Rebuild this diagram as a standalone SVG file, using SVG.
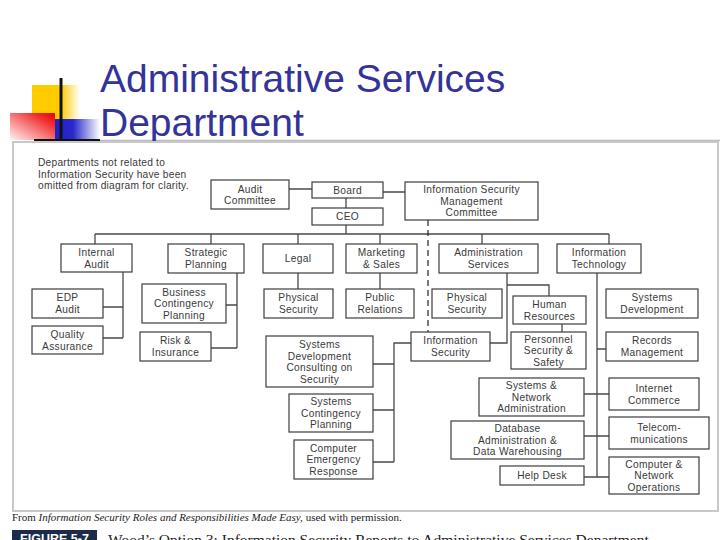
<svg xmlns="http://www.w3.org/2000/svg" width="720" height="540" viewBox="0 0 720 540">
<defs>
<linearGradient id="gy" x1="0" y1="0" x2="1" y2="0"><stop offset="0" stop-color="#FFCC00"/><stop offset="0.6" stop-color="#FFCC00"/><stop offset="1" stop-color="#FFFFFF"/></linearGradient>
<linearGradient id="gr" x1="0" y1="1" x2="1" y2="0"><stop offset="0" stop-color="#FFF4F4"/><stop offset="0.75" stop-color="#F03030"/><stop offset="1" stop-color="#E80000"/></linearGradient>
<linearGradient id="gb" x1="0" y1="0" x2="1" y2="0"><stop offset="0" stop-color="#2020C8"/><stop offset="0.4" stop-color="#2828CC"/><stop offset="1" stop-color="#FFFFFF"/></linearGradient>
<style>
.box{fill:#fff;stroke:#3c3c3c;stroke-width:1.2}
.t{font-family:"Liberation Sans",Arial,sans-serif;font-size:10.2px;letter-spacing:0.3px;fill:#3a3a3a;text-anchor:middle}
.n{font-family:"Liberation Sans",Arial,sans-serif;font-size:10.2px;letter-spacing:0.25px;fill:#3a3a3a}
.c{stroke:#4a4a4a;stroke-width:1.3;fill:none}
.dash{stroke:#222;stroke-width:1.2;stroke-dasharray:6,4;fill:none}
.title{font-family:"Liberation Sans",Arial,sans-serif;font-size:39px;fill:#333399}
</style>
</defs>
<rect width="720" height="540" fill="#fff"/>
<g id="decor">
<rect x="32" y="85" width="48" height="34" fill="url(#gy)"/>
<rect x="55" y="119" width="45" height="21" fill="url(#gb)"/>
<rect x="10" y="113" width="45" height="27" fill="url(#gr)"/>
<line x1="61" y1="78" x2="61" y2="140" stroke="#111" stroke-width="3"/>
<line x1="34" y1="140" x2="100" y2="140" stroke="#111" stroke-width="2"/>
<line x1="100" y1="140.5" x2="720" y2="140.5" stroke="#bbb" stroke-width="1.5"/>
</g>
<g id="title">
<text class="title" x="100" y="92">Administrative Services</text>
<text class="title" x="100" y="136">Department</text>
</g>
<rect x="13" y="142" width="705" height="369" fill="#fff" stroke="#c8c8c8" stroke-width="2"/>
<text class="n"><tspan x="38" y="166">Departments not related to</tspan><tspan x="38" y="177.6">Information Security have been</tspan><tspan x="38" y="189.2">omitted from diagram for clarity.</tspan></text>
<g id="connectors">
<path class="c" d="M289 189H312M383 192H405M346 198V208M346 225V234M95 234H609"/>
<path class="c" d="M95 234V244M211 234V244M298 234V244M380 234V244M482 234V244M609 234V244"/>
<path class="c" d="M123 272V338M103 307H123M103 338H123"/>
<path class="c" d="M237 273V348M226 305H237M211 348H237"/>
<path class="c" d="M298 273V289M380 273V289"/>
<path class="c" d="M507 273V343H490M507 285H549V296M562 324V332"/>
<path class="c" d="M411 343H394V462M373 364H394M373 410H394M373 462H394"/>
<path class="c" d="M597 273V477" stroke="#111" stroke-width="1.6"/>
<path class="c" d="M597 349H606M584 394H609M584 436H609M584 477H609"/>
<path class="dash" d="M428 220V332"/>
</g>
<g id="audit-committee"><rect class="box" x="211" y="180" width="78" height="29"/><text class="t"><tspan x="250" y="192.5">Audit</tspan><tspan x="250" y="204.1">Committee</tspan></text></g>
<g id="board"><rect class="box" x="312" y="182" width="71" height="16"/><text class="t" x="347.5" y="193.7">Board</text></g>
<g id="ceo"><rect class="box" x="312" y="208" width="71" height="17"/><text class="t" x="347.5" y="220.2">CEO</text></g>
<g id="ismc"><rect class="box" x="405" y="182" width="133" height="38"/><text class="t"><tspan x="471.5" y="193.2">Information Security</tspan><tspan x="471.5" y="204.8">Management</tspan><tspan x="471.5" y="216.4">Committee</tspan></text></g>
<g id="internal-audit"><rect class="box" x="61" y="244" width="71" height="28"/><text class="t"><tspan x="96.5" y="256">Internal</tspan><tspan x="96.5" y="267.6">Audit</tspan></text></g>
<g id="strategic-planning"><rect class="box" x="168" y="244" width="76" height="29"/><text class="t"><tspan x="206" y="256.4">Strategic</tspan><tspan x="206" y="268">Planning</tspan></text></g>
<g id="legal"><rect class="box" x="263" y="244" width="70" height="29"/><text class="t" x="298" y="262.2">Legal</text></g>
<g id="marketing-sales"><rect class="box" x="346" y="244" width="71" height="29"/><text class="t"><tspan x="381.5" y="256.4">Marketing</tspan><tspan x="381.5" y="268">&amp; Sales</tspan></text></g>
<g id="administration-services"><rect class="box" x="439" y="244" width="99" height="29"/><text class="t"><tspan x="488.5" y="256.4">Administration</tspan><tspan x="488.5" y="268">Services</tspan></text></g>
<g id="information-technology"><rect class="box" x="557" y="244" width="84" height="29"/><text class="t"><tspan x="599" y="256.4">Information</tspan><tspan x="599" y="268">Technology</tspan></text></g>
<g id="edp-audit"><rect class="box" x="32" y="289" width="71" height="29"/><text class="t"><tspan x="67.5" y="301.4">EDP</tspan><tspan x="67.5" y="313">Audit</tspan></text></g>
<g id="quality-assurance"><rect class="box" x="32" y="326" width="71" height="28"/><text class="t"><tspan x="67.5" y="338">Quality</tspan><tspan x="67.5" y="349.6">Assurance</tspan></text></g>
<g id="business-contingency"><rect class="box" x="142" y="284" width="84" height="39"/><text class="t"><tspan x="184" y="295.7">Business</tspan><tspan x="184" y="307.3">Contingency</tspan><tspan x="184" y="318.9">Planning</tspan></text></g>
<g id="risk-insurance"><rect class="box" x="140" y="332" width="71" height="29"/><text class="t"><tspan x="175.5" y="344.4">Risk &amp;</tspan><tspan x="175.5" y="356">Insurance</tspan></text></g>
<g id="physical-security-legal"><rect class="box" x="264" y="289" width="69" height="29"/><text class="t"><tspan x="298.5" y="301.4">Physical</tspan><tspan x="298.5" y="313">Security</tspan></text></g>
<g id="public-relations"><rect class="box" x="346" y="289" width="68" height="29"/><text class="t"><tspan x="380" y="301.4">Public</tspan><tspan x="380" y="313">Relations</tspan></text></g>
<g id="physical-security-admin"><rect class="box" x="432" y="289" width="70" height="29"/><text class="t"><tspan x="467" y="301.4">Physical</tspan><tspan x="467" y="313">Security</tspan></text></g>
<g id="human-resources"><rect class="box" x="513" y="296" width="73" height="28"/><text class="t"><tspan x="549.5" y="308">Human</tspan><tspan x="549.5" y="319.6">Resources</tspan></text></g>
<g id="personnel-security"><rect class="box" x="511" y="332" width="75" height="37"/><text class="t"><tspan x="548.5" y="342.7">Personnel</tspan><tspan x="548.5" y="354.3">Security &amp;</tspan><tspan x="548.5" y="365.9">Safety</tspan></text></g>
<g id="information-security"><rect class="box" x="411" y="332" width="79" height="29"/><text class="t"><tspan x="450.5" y="344.4">Information</tspan><tspan x="450.5" y="356">Security</tspan></text></g>
<g id="sys-dev-consulting"><rect class="box" x="266" y="336" width="107" height="51"/><text class="t"><tspan x="319.5" y="348">Systems</tspan><tspan x="319.5" y="359.6">Development</tspan><tspan x="319.5" y="371.2">Consulting on</tspan><tspan x="319.5" y="382.8">Security</tspan></text></g>
<g id="systems-contingency"><rect class="box" x="289" y="394" width="84" height="38"/><text class="t"><tspan x="331" y="405.2">Systems</tspan><tspan x="331" y="416.8">Contingency</tspan><tspan x="331" y="428.4">Planning</tspan></text></g>
<g id="computer-emergency"><rect class="box" x="294" y="440" width="79" height="39"/><text class="t"><tspan x="333.5" y="451.7">Computer</tspan><tspan x="333.5" y="463.3">Emergency</tspan><tspan x="333.5" y="474.9">Response</tspan></text></g>
<g id="systems-network-admin"><rect class="box" x="479" y="378" width="105" height="38"/><text class="t"><tspan x="531.5" y="389.2">Systems &amp;</tspan><tspan x="531.5" y="400.8">Network</tspan><tspan x="531.5" y="412.4">Administration</tspan></text></g>
<g id="database-admin"><rect class="box" x="451" y="421" width="133" height="38"/><text class="t"><tspan x="517.5" y="432.2">Database</tspan><tspan x="517.5" y="443.8">Administration &amp;</tspan><tspan x="517.5" y="455.4">Data Warehousing</tspan></text></g>
<g id="help-desk"><rect class="box" x="500" y="466" width="84" height="19"/><text class="t" x="542" y="479.2">Help Desk</text></g>
<g id="systems-development"><rect class="box" x="606" y="289" width="92" height="29"/><text class="t"><tspan x="652" y="301.4">Systems</tspan><tspan x="652" y="313">Development</tspan></text></g>
<g id="records-management"><rect class="box" x="606" y="332" width="92" height="29"/><text class="t"><tspan x="652" y="344.4">Records</tspan><tspan x="652" y="356">Management</tspan></text></g>
<g id="internet-commerce"><rect class="box" x="609" y="378" width="90" height="32"/><text class="t"><tspan x="654" y="391.9">Internet</tspan><tspan x="654" y="403.5">Commerce</tspan></text></g>
<g id="telecommunications"><rect class="box" x="609" y="417" width="100" height="32"/><text class="t"><tspan x="659" y="430.9">Telecom-</tspan><tspan x="659" y="442.5">munications</tspan></text></g>
<g id="computer-network-ops"><rect class="box" x="609" y="457" width="90" height="37"/><text class="t"><tspan x="654" y="467.7">Computer &amp;</tspan><tspan x="654" y="479.3">Network</tspan><tspan x="654" y="490.9">Operations</tspan></text></g>
<g id="caption">
<text x="12" y="521" font-family="Liberation Serif, Times New Roman, serif" font-size="11" fill="#222">From <tspan font-style="italic">Information Security Roles and Responsibilities Made Easy,</tspan> used with permission.</text>
<rect x="12" y="530" width="85" height="14" fill="#1c2b4a"/>
<text x="54.5" y="543" font-family="Liberation Sans, Arial, sans-serif" font-size="12.5" font-weight="bold" fill="#fff" text-anchor="middle">FIGURE 5-7</text>
<text x="108" y="545" font-family="Liberation Serif, Times New Roman, serif" font-size="15.5" fill="#222">Wood’s Option 3: Information Security Reports to Administrative Services Department</text>
</g>
</svg>
